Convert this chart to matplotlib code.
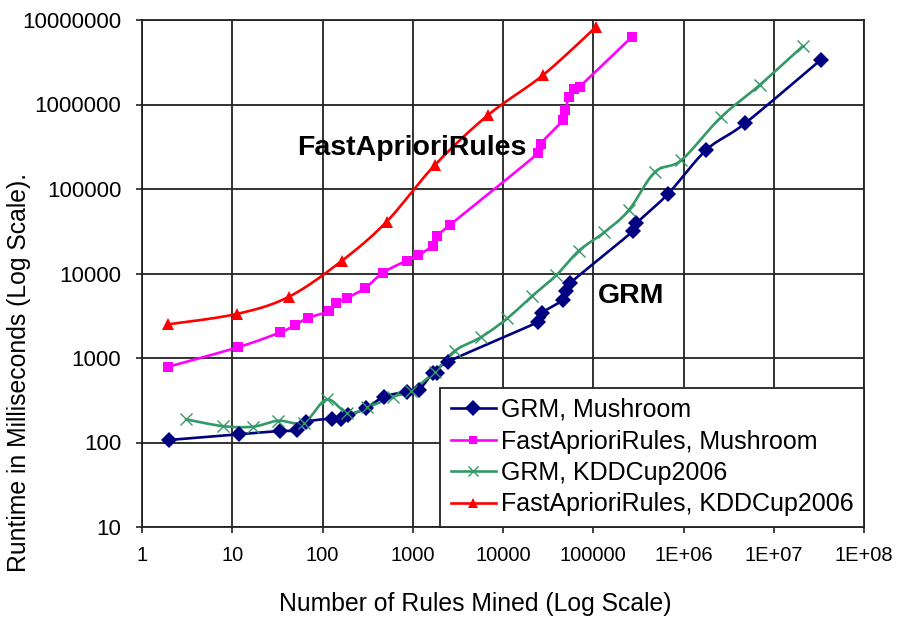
import numpy as np
import matplotlib
matplotlib.use("Agg")
import matplotlib.pyplot as plt
from matplotlib.ticker import FixedLocator, FixedFormatter, NullLocator

plt.rcParams['font.family'] = ['Liberation Sans', 'DejaVu Sans']

# ---- data ----
grm_mush_x = [1.97, 12.0, 33.8, 52.1, 65.5, 126, 160, 191, 306, 479, 871, 1162, 1656, 1850, 2466,
              24300, 26900, 45900, 49600, 54900, 276000, 301000, 673000, 1790000, 4820000, 33000000]
grm_mush_y = [107, 125, 137, 139, 175, 192, 190, 209, 254, 348, 399, 418, 659, 670, 904,
              2670, 3410, 4860, 6210, 7650, 31800, 39300, 87300, 290000, 600000, 3360000]

far_mush_x = [1.96, 11.6, 33.8, 50.1, 69.5, 117, 141, 185, 295, 470, 853, 1147, 1657, 1872, 2575,
              24600, 26200, 46400, 49000, 53600, 60800, 70800, 269000]
far_mush_y = [789, 1340, 2005, 2460, 2990, 3570, 4440, 5090, 6690, 10230, 14200, 16340, 21440, 27770, 37500,
              267000, 345000, 656000, 861000, 1230000, 1510000, 1630000, 6340000]

grm_kdd_x = [3.07, 7.95, 17.1, 32.3, 62.2, 111, 189, 314, 607, 953, 1757, 2926, 5750, 11170, 21100,
             39100, 69100, 132000, 247000, 480000, 948000, 2580000, 6980000, 20900000]
grm_kdd_y = [188, 156, 154, 181, 172, 323, 222, 260, 348, 409, 688, 1217, 1773, 2950, 5420,
             9600, 18570, 30600, 56000, 158000, 220000, 702000, 1700000, 4890000]

far_kdd_x = [1.96, 11.2, 42.5, 163, 513, 1757, 6840, 27800, 108000]
far_kdd_y = [2505, 3320, 5310, 14060, 41000, 192000, 751000, 2230000, 8330000]

x_ticks = [1, 10, 100, 1000, 10000, 100000, 1e6, 1e7, 1e8]
x_tick_labels = ["1", "10", "100", "1000", "10000", "100000", "1E+06", "1E+07", "1E+08"]
y_ticks = [10, 100, 1000, 10000, 100000, 1e6, 1e7]
y_tick_labels = ["10", "100", "1000", "10000", "100000", "1000000", "10000000"]

series = [
    ("GRM, Mushroom", grm_mush_x, grm_mush_y, "#000080", "D", 8.5),
    ("FastAprioriRules, Mushroom", far_mush_x, far_mush_y, "#FF00FF", "s", 7),
    ("GRM, KDDCup2006", grm_kdd_x, grm_kdd_y, "#339966", "x", 8),
    ("FastAprioriRules, KDDCup2006", far_kdd_x, far_kdd_y, "#FF0000", "^", 8),
]


def smooth(xs, ys, n=20):
    """Excel-like smoothed line (cubic Bezier) in log space, used for drawing only."""
    P = np.column_stack([np.log10(np.asarray(xs, float)), np.log10(np.asarray(ys, float))])
    out = [P[0]]
    m = len(P)
    for i in range(m - 1):
        p0 = P[i - 1] if i > 0 else P[i]
        p1 = P[i]
        p2 = P[i + 1]
        p3 = P[i + 2] if i + 2 < m else P[i + 1]
        c1 = p1 + (p2 - p0) / 6.0
        c2 = p2 - (p3 - p1) / 6.0
        t = np.linspace(0, 1, n)[1:, None]
        b = ((1 - t) ** 3) * p1 + 3 * ((1 - t) ** 2) * t * c1 + 3 * (1 - t) * t ** 2 * c2 + t ** 3 * p2
        out.extend(b)
    out = np.array(out)
    return 10 ** out[:, 0], 10 ** out[:, 1]


fig = plt.figure(figsize=(9.0, 6.19), dpi=100)
ax = fig.add_axes([142 / 900, 1 - 527 / 619, (864 - 142) / 900, (527 - 20) / 619])
ax.set_xscale("log")
ax.set_yscale("log")
ax.set_xlim(1, 1e8)
ax.set_ylim(10, 1e7)

for label, xs, ys, col, mk, ms in series:
    sx, sy = smooth(xs, ys)
    ax.plot(sx, sy, color=col, lw=1.9, zorder=3, solid_capstyle='round')
    mew = 1.0 if mk == "x" else 0
    ax.plot(xs, ys, linestyle="none", marker=mk, ms=ms, mew=mew, color=col, zorder=4)
    ax.plot([], [], color=col, lw=1.9, marker=mk, ms=ms * 0.9, mew=mew, label=label)

ax.xaxis.set_major_locator(FixedLocator(x_ticks))
ax.xaxis.set_major_formatter(FixedFormatter(x_tick_labels))
ax.xaxis.set_minor_locator(NullLocator())
ax.yaxis.set_major_locator(FixedLocator(y_ticks))
ax.yaxis.set_major_formatter(FixedFormatter(y_tick_labels))
ax.yaxis.set_minor_locator(NullLocator())

ax.grid(True, which="major", color="#222222", lw=1.3, zorder=1)
ax.set_axisbelow(True)
for s in ax.spines.values():
    s.set_color("#222222")
    s.set_linewidth(1.3)
ax.tick_params(axis="both", which="major", length=4, width=1.2, color="#222222")
ax.tick_params(axis="x", labelsize=14.5, pad=10)
ax.tick_params(axis="y", labelsize=16, pad=11)

fig.text(475 / 900, 1 - 604 / 619, "Number of Rules Mined (Log Scale)", fontsize=17.8,
         ha="center", va="center")
fig.text(19 / 900, 1 - 372 / 619, "Runtime in Milliseconds (Log Scale).", fontsize=17.8,
         ha="center", va="center", rotation=90)

ax.text(977, 305000, "FastAprioriRules", fontsize=20.5, fontweight="bold", ha="center", va="center", zorder=5)
ax.text(260000, 5420, "GRM", fontsize=20.5, fontweight="bold", ha="center", va="center", zorder=5)

leg = ax.legend(loc="lower right", borderaxespad=0, prop={"size": 18.0}, frameon=True, fancybox=False,
                edgecolor="#222222", framealpha=1, handlelength=1.8, handletextpad=0.2,
                labelspacing=0.3, borderpad=0.42)
leg.get_frame().set_linewidth(1.3)
leg.set_zorder(6)

fig.savefig("out.png", dpi=100)
